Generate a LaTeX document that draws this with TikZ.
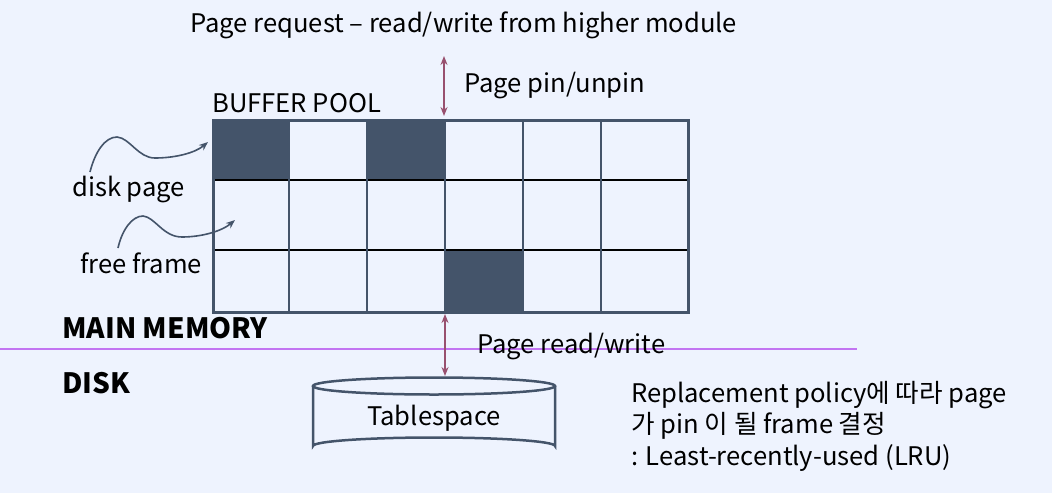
\documentclass[tikz,border=0pt]{standalone}
\usepackage{fontspec}
\setmainfont{Noto Sans CJK KR}
\usetikzlibrary{arrows.meta}
\definecolor{bgc}{HTML}{EEF3FE}
\definecolor{slate}{HTML}{44546A}
\definecolor{maroon}{HTML}{98506F}
\definecolor{purp}{HTML}{C274F2}
\tikzset{
  lbl/.style={anchor=base west, inner sep=0pt, font=\fontsize{25.6}{30}\selectfont, text=black},
  bold/.style={lbl, font=\fontsize{28}{32}\selectfont\bfseries},
  darkcell/.style={fill=slate},
  vline/.style={draw=slate, line width=2pt},
  hline/.style={draw=black, line width=1.5pt},
  border/.style={draw=slate, line width=2.5pt},
  io/.style={draw=maroon, line width=2.5pt, {Stealth[length=9pt,width=7pt]}-{Stealth[length=9pt,width=7pt]}},
  curvy/.style={draw=slate, line width=1.6pt, -{Stealth[length=9pt,width=7pt]}},
}
\begin{document}
\begin{tikzpicture}[x=1pt,y=-1pt]
\fill[bgc] (0,0) rectangle (1052,493);
\useasboundingbox (0,0) rectangle (1052,493);
% separator line
\draw[purp, line width=1.5pt] (0,349) -- (857,349);
% grid
\fill[darkcell] (212,119) rectangle (289,180);
\fill[darkcell] (367,119) rectangle (445,180);
\fill[darkcell] (445,250) rectangle (523,311);
\foreach \y in {180,250} \draw[hline] (212,\y) -- (687,\y);
\foreach \x in {289,367,445,523,601} \draw[vline] (\x,119) -- (\x,311);
\node[border, minimum width=475pt, minimum height=192pt, inner sep=0pt, anchor=north west] (grid) at (212,119) {};
% cylinder
\draw[slate, line width=2.5pt] (313,386) -- (313,446) arc[start angle=180, end angle=360, x radius=121, y radius=8.5] -- (555,386);
\draw[slate, line width=2.5pt] (434,386) ellipse [x radius=121, y radius=8.5];
\coordinate (cyltop) at (445,376);
\coordinate (gridbot) at (445,314);
\coordinate (reqbot) at (444,56);
\coordinate (gridtop) at (444,116);
\draw[io] (gridbot) -- (cyltop);
\draw[io] (reqbot) -- (gridtop);
% curvy arrows
\coordinate (dpstart) at (90,172);
\coordinate (dpend) at (208,142);
\draw[curvy] (dpstart) .. controls (95,152) and (105,137) .. (117,137) .. controls (130,138) and (138,158) .. (155,158) .. controls (175,158) and (195,153) .. (dpend);
\coordinate (ffstart) at (118,248);
\coordinate (ffend) at (235,220);
\draw[curvy] (ffstart) .. controls (122,230) and (132,216) .. (143,216) .. controls (155,217) and (163,237) .. (182,237) .. controls (202,237) and (222,231) .. (ffend);
% texts
\node[lbl] (req) at (190,32) {Page request – read/write from higher module};
\node[lbl] (pin) at (464,92) {Page pin/unpin};
\node[lbl] (bp) at (212,112) {BUFFER POOL};
\node[lbl] (dp) at (72,196) {disk page};
\node[lbl] (ff) at (80,273) {free frame};
\node[bold] (mm) at (62,338) {MAIN MEMORY};
\node[lbl] (rw) at (477,353) {Page read/write};
\node[bold] (dk) at (62,393) {DISK};
\node[lbl, anchor=base] (ts) at (434,425) {Tablespace};
\node[lbl] (r1) at (631,402) {Replacement policy에 따라 page};
\node[lbl] (r2) at (631,433) {가 pin 이 될 frame 결정};
\node[lbl] (r3) at (631,465) {: Least-recently-used (LRU)};
\end{tikzpicture}
\end{document}
